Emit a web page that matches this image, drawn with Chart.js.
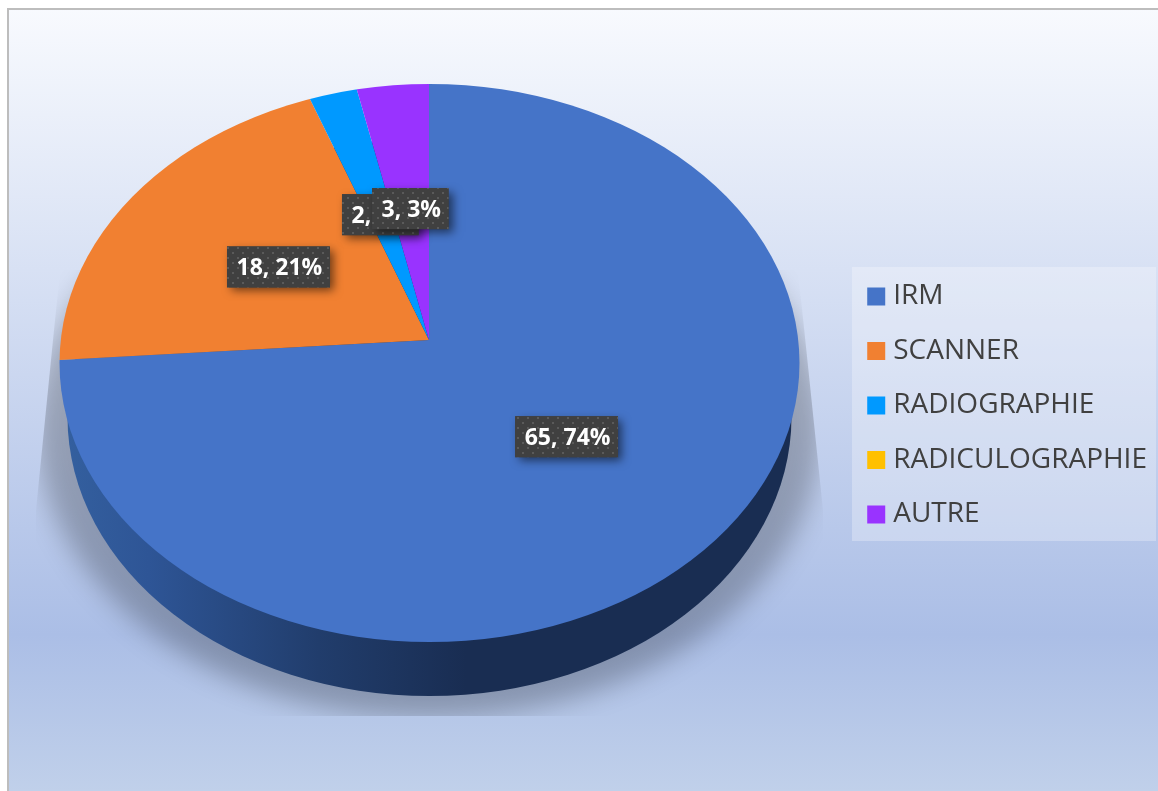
<!DOCTYPE html>
<html>
<head>
<meta charset="utf-8">
<title>Examens</title>
<script src="https://cdn.jsdelivr.net/npm/chart.js@4"></script>
<style>
  html, body { margin: 0; padding: 0; background: #fff; }
  canvas { display: block; }
</style>
</head>
<body>
<canvas id="examChart" width="1158" height="791"></canvas>
<script>
// valeurs
const categories = ["IRM", "SCANNER", "RADIOGRAPHIE", "RADICULOGRAPHIE", "AUTRE"];
const counts = [65, 18, 2, 0, 3];
const percents = [74, 21, 2, 0, 3];
const colors = ["#4574c8", "#f18031", "#0099ff", "#ffc000", "#9933ff"];

// geometrie du disque incline
const apexX = 429;
const apexY = 340;
const squash = 0.755;
const topEllipse = { x: 429.5, y: 363, rx: 370, ry: 279 };
const baseEllipse = { x: 429.5, y: 417, rx: 362, ry: 279 };

function ellipsePath(ctx, e) {
  ctx.beginPath();
  ctx.ellipse(e.x, e.y, e.rx, e.ry, 0, 0, Math.PI * 2);
}

function dotPattern(ctx) {
  const tile = document.createElement("canvas");
  tile.width = 10;
  tile.height = 10;
  const t = tile.getContext("2d");
  t.fillStyle = "#404040";
  t.fillRect(0, 0, 10, 10);
  t.fillStyle = "#5a5a5a";
  t.fillRect(2, 2, 2, 2);
  t.fillRect(7, 7, 2, 2);
  return ctx.createPattern(tile, "repeat");
}

// fond, cadre et rectangle de la legende
const backgroundPlugin = {
  id: "backgroundPlugin",
  beforeDraw(chart) {
    const ctx = chart.ctx;
    ctx.save();
    ctx.fillStyle = "#ffffff";
    ctx.fillRect(0, 0, 1158, 791);
    const g = ctx.createLinearGradient(0, 9, 0, 791);
    g.addColorStop(0, "#f8fafe");
    g.addColorStop(0.8, "#abbee6");
    g.addColorStop(1, "#c0d0ea");
    ctx.fillStyle = g;
    ctx.fillRect(7, 8, 1151, 783);
    ctx.fillStyle = "#bdbdbd";
    ctx.fillRect(7, 8, 1151, 2);
    ctx.fillRect(7, 8, 2, 783);
    ctx.fillStyle = "rgba(255,255,255,0.28)";
    ctx.fillRect(852, 267, 304, 274);
    ctx.restore();
  },
};

// ombre et tranche sous le disque, puis ecrasement des arcs
const tiltPlugin = {
  id: "tiltPlugin",
  beforeDatasetsDraw(chart) {
    const ctx = chart.ctx;
    const arc = chart.getDatasetMeta(0).data[0];

    ctx.save();
    ctx.beginPath();
    ctx.moveTo(60, 270);
    ctx.lineTo(798, 270);
    ctx.lineTo(823, 510);
    ctx.lineTo(823, 716);
    ctx.lineTo(36, 716);
    ctx.lineTo(36, 510);
    ctx.closePath();
    ctx.clip();
    ctx.filter = "blur(13px)";
    ctx.fillStyle = "rgba(0,0,0,0.24)";
    ellipsePath(ctx, { x: 429, y: 428, rx: 392, ry: 290 });
    ctx.fill();
    ctx.restore();

    const rim = ctx.createLinearGradient(60, 0, 799, 0);
    rim.addColorStop(0, "#34609f");
    rim.addColorStop(0.12, "#2e5596");
    rim.addColorStop(0.35, "#213d6c");
    rim.addColorStop(0.55, "#192d52");
    rim.addColorStop(1, "#192d52");
    ctx.save();
    ctx.fillStyle = rim;
    ellipsePath(ctx, baseEllipse);
    ctx.fill();
    ctx.beginPath();
    ctx.moveTo(60, 363);
    ctx.lineTo(799, 363);
    ctx.lineTo(791.5, 417);
    ctx.lineTo(67.5, 417);
    ctx.closePath();
    ctx.fill();
    ctx.restore();

    ctx.save();
    ellipsePath(ctx, topEllipse);
    ctx.clip();
    ctx.translate(apexX, apexY);
    ctx.scale(1, squash);
    ctx.translate(-arc.x, -arc.y);
  },
  afterDatasetsDraw(chart, args, opts) {
    const ctx = chart.ctx;
    ctx.restore();

    const arcs = chart.getDatasetMeta(0).data;
    const pattern = dotPattern(ctx);
    ctx.save();
    ctx.font = "bold 23px 'Open Sans'";
    ctx.textAlign = "center";
    ctx.textBaseline = "middle";
    arcs.forEach((arc, i) => {
      if (!counts[i]) return;
      const angle = (arc.startAngle + arc.endAngle) / 2;
      const x = apexX + opts.labelRadius[i] * Math.cos(angle);
      const y = apexY + opts.labelRadius[i] * Math.sin(angle) * squash;
      const text = counts[i] + ", " + percents[i] + "%";
      const w = ctx.measureText(text).width + 17;
      ctx.save();
      ctx.shadowColor = "rgba(0,0,0,0.55)";
      ctx.shadowBlur = 9;
      ctx.shadowOffsetX = 4;
      ctx.shadowOffsetY = 4;
      ctx.fillStyle = "#404040";
      ctx.fillRect(x - w / 2, y - 20.5, w, 41);
      ctx.restore();
      ctx.fillStyle = pattern;
      ctx.fillRect(x - w / 2, y - 20.5, w, 41);
      ctx.fillStyle = "#ffffff";
      ctx.fillText(text, x + 1, y + 2);
    });
    ctx.restore();
  },
};

const baseLabels = Chart.overrides.doughnut.plugins.legend.labels.generateLabels;

new Chart(document.getElementById("examChart"), {
  type: "pie",
  data: {
    labels: categories,
    datasets: [
      {
        data: counts,
        backgroundColor: colors,
        borderWidth: 0,
        radius: 420,
        clip: false,
      },
    ],
  },
  options: {
    responsive: false,
    animation: false,
    layout: {
      padding: { top: 20, right: 1 },
    },
    plugins: {
      tooltip: { enabled: false },
      tiltPlugin: { labelRadius: [188, 179, 173, 0, 175] },
      legend: {
        position: "right",
        align: "center",
        labels: {
          color: "#404040",
          font: { family: "'Open Sans'", size: 28 },
          boxWidth: 6,
          boxHeight: 6,
          padding: 26.5,
          // trait epais pour un carre de 18px colle au texte
          generateLabels(chart) {
            return baseLabels(chart).map((item) => {
              item.lineWidth = 12;
              item.strokeStyle = item.fillStyle;
              return item;
            });
          },
        },
      },
    },
  },
  plugins: [backgroundPlugin, tiltPlugin],
});
</script>
</body>
</html>
